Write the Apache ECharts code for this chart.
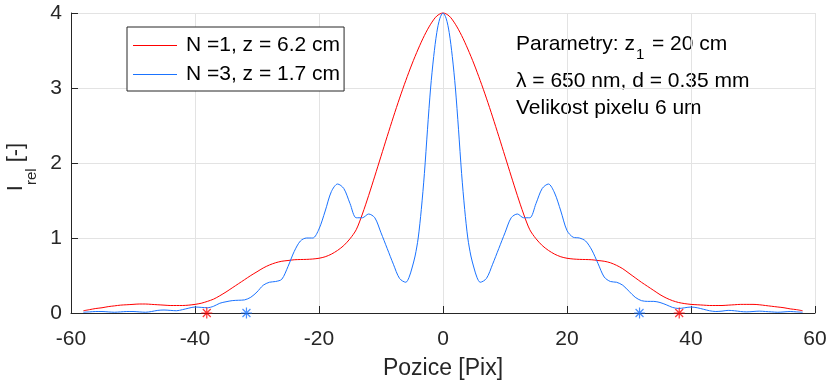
<!DOCTYPE html>
<html><head><meta charset="utf-8">
<script src="https://cdn.jsdelivr.net/npm/echarts@6/dist/echarts.min.js"></script>
<style>html,body{margin:0;padding:0;background:#fff}#c{width:828px;height:382px}</style>
</head><body><div id="c"></div>
<script>
const FONT = '"Liberation Sans", Arial, Helvetica, sans-serif';
const seriesNames = ['N =1, z = 6.2 cm', 'N =3, z = 1.7 cm'];
const xTickValues = [-60, -40, -20, 0, 20, 40, 60];
const yTickValues = [0, 1, 2, 3, 4];

const redX = [-58,-57,-56,-55,-54,-53,-52,-51,-50,-49,-48,-47,-46,-45,-44,-43,-42,-41,-40,-39,-38,-37,-36,-35,-34,-33,-32,-31,-30,-29,-28,-27,-26,-25,-24,-23,-22,-21,-20,-19,-18,-17,-16,-15,-14,-13,-12,-11,-10,-9,-8,-7,-6,-5,-4,-3,-2,-1,
  0,1,2,3,4,5,6,7,8,9,10,11,12,13,14,15,16,17,18,19,20,21,22,23,24,25,26,27,28,29,30,31,32,33,34,35,36,37,38,39,40,41,42,43,44,45,46,47,48,49,50,51,52,53,54,55,56,57,58];
const redY = [0.03,0.045,0.06,0.07,0.085,0.095,0.105,0.11,0.115,0.12,0.12,0.115,0.11,0.105,0.10,0.10,0.10,0.105,0.115,0.13,0.155,0.185,0.23,0.28,0.335,0.39,0.445,0.50,0.55,0.60,0.64,0.67,0.69,0.70,0.71,0.713,0.715,0.72,0.73,0.75,0.785,0.835,0.90,0.99,1.11,1.32,1.565,1.825,2.09,2.355,2.615,2.865,3.10,3.32,3.52,3.70,3.85,3.96,
  4.00,3.96,3.85,3.70,3.52,3.32,3.10,2.865,2.615,2.355,2.09,1.825,1.565,1.32,1.11,0.99,0.90,0.835,0.785,0.75,0.73,0.72,0.715,0.713,0.71,0.70,0.69,0.67,0.635,0.59,0.53,0.47,0.41,0.355,0.30,0.245,0.20,0.165,0.14,0.125,0.115,0.11,0.105,0.10,0.10,0.10,0.105,0.11,0.115,0.115,0.115,0.11,0.10,0.09,0.08,0.07,0.055,0.045,0.03];

const blueX = [-58,-57,-56,-55,-54,-53,-52,-51,-50,-49,-48,-47,-46,-45,-44,-43,-42,-41,-40,-39,-38,-37,-36,-35,-34,-33,-32,-31,-30,-29,-28,-27,-26,-25,-24,-23,-22,-21,-20,-19,-18,-17,-16,-15,-14,-13,-12,-11,-10,-9,-8,-7,-6,
  -5.5,-5,-4.5,-4,-3.5,-3,-2.5,-2,-1.5,-1,-0.5,0,0.5,1,1.5,2,2.5,3,3.5,4,4.5,5,5.5,
  6,7,8,9,10,11,12,13,14,15,16,17,18,19,20,21,22,23,24,25,26,27,28,29,30,31,32,33,34,35,36,37,38,39,40,41,42,43,44,45,46,47,48,49,50,51,52,53,54,55,56,57,58];
const blueY = [0.01,0.015,0.02,0.02,0.015,0.01,0.015,0.02,0.02,0.015,0.01,0.02,0.035,0.04,0.035,0.03,0.045,0.065,0.08,0.075,0.07,0.09,0.13,0.15,0.165,0.17,0.175,0.21,0.28,0.37,0.41,0.42,0.45,0.62,0.82,0.96,1.0,1.0,1.12,1.36,1.62,1.72,1.66,1.46,1.27,1.27,1.32,1.27,1.07,0.86,0.65,0.46,0.41,
  0.47,0.60,0.76,1.0,1.38,1.86,2.45,3.0,3.42,3.74,3.93,4.0,3.93,3.74,3.42,3.0,2.45,1.86,1.38,1.0,0.76,0.60,0.47,
  0.41,0.46,0.65,0.86,1.07,1.27,1.32,1.27,1.27,1.46,1.66,1.72,1.60,1.36,1.10,1.01,1.00,0.96,0.84,0.66,0.48,0.42,0.41,0.37,0.29,0.21,0.165,0.155,0.155,0.14,0.11,0.075,0.06,0.07,0.08,0.07,0.05,0.03,0.02,0.025,0.035,0.03,0.02,0.015,0.02,0.025,0.02,0.015,0.01,0.015,0.02,0.015,0.01];

const redStarX = [-38.1, 38.1];
const blueStarX = [-31.7, 31.7];

const annotLine1a = 'Parametry: z';
const annotSub = '1';
const annotLine1b = '= 20 cm';
const annotLine2 = 'λ = 650 nm, d = 0.35 mm';
const annotLine3 = 'Velikost pixelu 6 um';

const RED = '#ff0000';
const BLUE = '#1a73ff';
const AX = '#262626';
const GRIDC = '#e3e3e3';

const zip = (xs, ys) => xs.map((x, i) => [x, ys[i]]);
const star = 'path://M0,-1L0,1M-1,0L1,0M-0.72,-0.72L0.72,0.72M-0.72,0.72L0.72,-0.72';
const legendLine = 'path://M0,0L44,0L44,1L0,1Z';

const chart = echarts.init(document.getElementById('c'), null, {renderer: 'canvas'});
const axisCommon = {
  type: 'value',
  axisLine: {show: true, onZero: false, lineStyle: {color: AX, width: 1}},
  axisTick: {show: true, inside: true, length: 7, lineStyle: {color: AX, width: 1}},
  splitLine: {show: true, lineStyle: {color: GRIDC, width: 1}},
  nameTextStyle: {fontSize: 23, color: AX, fontFamily: FONT}
};
chart.setOption({
  animation: false,
  backgroundColor: '#fff',
  textStyle: {fontFamily: FONT},
  grid: {left: 71, right: 13, top: 13, bottom: 69, containLabel: false, outerBoundsMode: 'none'},
  xAxis: Object.assign({}, axisCommon, {
    min: xTickValues[0], max: xTickValues[xTickValues.length - 1], interval: 20,
    axisLabel: {fontSize: 21, color: AX, margin: 16, fontFamily: FONT},
    name: 'Pozice [Pix]', nameLocation: 'middle', nameGap: 44
  }),
  yAxis: Object.assign({}, axisCommon, {
    min: yTickValues[0], max: yTickValues[yTickValues.length - 1], interval: 1,
    axisLabel: {fontSize: 21, color: AX, margin: 9, fontFamily: FONT},
    name: '{a|I}{s|rel}{a| [-]}', nameLocation: 'middle', nameGap: 29, nameRotate: 90,
    nameTextStyle: {
      color: AX, fontFamily: FONT, padding: [0, 8, 0, 0],
      rich: {
        a: {fontSize: 22, lineHeight: 46, color: AX, fontFamily: FONT},
        s: {fontSize: 15, lineHeight: 15, verticalAlign: 'bottom', color: AX, fontFamily: FONT}
      }
    }
  }),
  legend: {
    data: seriesNames.map(n => ({name: n, icon: legendLine})),
    orient: 'vertical', left: 127, top: 27,
    itemWidth: 44, itemHeight: 20, itemGap: 8, symbolKeepAspect: true,
    padding: [8, 4, 6, 6],
    borderColor: AX, borderWidth: 1, backgroundColor: '#fff', borderRadius: 0,
    textStyle: {fontSize: 21, color: '#000', fontFamily: FONT, padding: [0, 0, 0, 4]}
  },
  series: [
    {name: seriesNames[0], type: 'line', data: zip(redX, redY), symbol: 'none', smooth: 0.3, clip: false,
     lineStyle: {color: RED, width: 1}, itemStyle: {color: RED}, z: 3},
    {name: seriesNames[1], type: 'line', data: zip(blueX, blueY), symbol: 'none', smooth: 0.3, clip: false,
     lineStyle: {color: BLUE, width: 1}, itemStyle: {color: BLUE}, z: 4},
    {type: 'scatter', data: redStarX.map(x => [x, 0]), symbol: star, symbolSize: 11, clip: false,
     itemStyle: {color: RED, borderColor: RED, borderWidth: 1.2}, z: 5, silent: true},
    {type: 'scatter', data: blueStarX.map(x => [x, 0]), symbol: star, symbolSize: 11, clip: false,
     itemStyle: {color: BLUE, borderColor: BLUE, borderWidth: 1.2}, z: 5, silent: true}
  ],
  graphic: [
    {type: 'text', x: 516, y: 44, style: {text: annotLine1a, fontSize: 21, fontFamily: FONT, fill: '#000', verticalAlign: 'middle'}},
    {type: 'text', x: 636, y: 55, style: {text: annotSub, fontSize: 15, fontFamily: FONT, fill: '#000', verticalAlign: 'middle'}},
    {type: 'text', x: 652, y: 44, style: {text: annotLine1b, fontSize: 21, fontFamily: FONT, fill: '#000', verticalAlign: 'middle'}},
    {type: 'text', x: 516, y: 81, style: {text: annotLine2, fontSize: 21, fontFamily: FONT, fill: '#000', verticalAlign: 'middle'}},
    {type: 'text', x: 516, y: 108, style: {text: annotLine3, fontSize: 21, fontFamily: FONT, fill: '#000', verticalAlign: 'middle'}}
  ]
});
</script></body></html>
